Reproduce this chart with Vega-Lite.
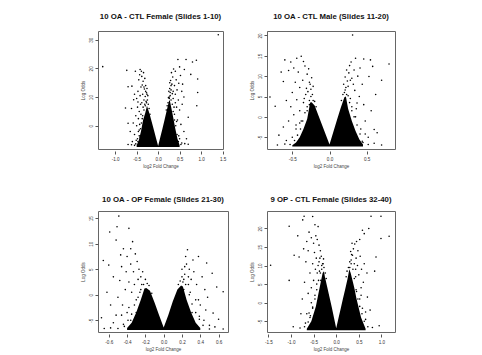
{
"$schema": "https://vega.github.io/schema/vega-lite/v6.json",
"background": "white",
"padding": {"left": 79, "top": 12, "right": 5, "bottom": 5},
"config": {
  "view": {"stroke": "#666", "strokeWidth": 1},
  "font": "Liberation Sans",
  "axis": {"grid": false, "domain": false, "ticks": true, "tickColor": "#555", "tickSize": 3, "labelFontSize": 4.6, "labelColor": "#333", "titleFontSize": 4.5, "titleFontWeight": "normal", "titleColor": "#444", "labelFont": "Liberation Sans", "titleFont": "Liberation Sans", "labelOverlap": false, "labelBound": false, "labelFlush": false},
  "axisX": {"offset": 2, "labelPadding": 2, "titlePadding": 3},
  "axisY": {"labelAngle": -90, "labelPadding": 2, "titlePadding": 3},
  "title": {"font": "Liberation Sans", "fontSize": 7.8, "fontWeight": "bold", "color": "#111", "anchor": "middle", "offset": 10}
},
"datasets": {
  "A_core": [{"x":-0.5,"y":-6.8,"y0":-7.4},{"x":-0.45,"y":-5,"y0":-7.4},{"x":-0.4,"y":-2,"y0":-7.4},{"x":-0.35,"y":2,"y0":-7.4},{"x":-0.3,"y":4.5,"y0":-7.4},{"x":-0.26,"y":7,"y0":-7.4},{"x":-0.24,"y":6,"y0":-7.4},{"x":-0.2,"y":4.2,"y0":-7.4},{"x":-0.15,"y":1.4,"y0":-7.4},{"x":-0.1,"y":-1.4,"y0":-7.4},{"x":-0.05,"y":-4.2,"y0":-7.4},{"x":0,"y":-7,"y0":-7.4},{"x":0.05,"y":-4,"y0":-7.4},{"x":0.1,"y":-1,"y0":-7.4},{"x":0.15,"y":2.1,"y0":-7.4},{"x":0.2,"y":5.3,"y0":-7.4},{"x":0.25,"y":8.5,"y0":-7.4},{"x":0.27,"y":9,"y0":-7.4},{"x":0.31,"y":6,"y0":-7.4},{"x":0.35,"y":3,"y0":-7.4},{"x":0.4,"y":-1,"y0":-7.4},{"x":0.45,"y":-4.5,"y0":-7.4},{"x":0.5,"y":-6.8,"y0":-7.4}],
  "A_pts": [{"x":-0.28,"y":8.5},{"x":-0.3,"y":10.2},{"x":-0.27,"y":11.5},{"x":-0.32,"y":12.8},{"x":-0.29,"y":14},{"x":-0.35,"y":15.5},{"x":-0.38,"y":17.2},{"x":-0.42,"y":19.6},{"x":-0.34,"y":18.5},{"x":-0.53,"y":19},{"x":-0.45,"y":16},{"x":-0.4,"y":13.5},{"x":-0.36,"y":11},{"x":-0.33,"y":9},{"x":-0.31,"y":7.5},{"x":-0.38,"y":8},{"x":-0.42,"y":10.5},{"x":-0.47,"y":12},{"x":-0.5,"y":9.5},{"x":-0.55,"y":11},{"x":-0.61,"y":13.8},{"x":-0.57,"y":9.1},{"x":-0.62,"y":6},{"x":-0.48,"y":6.5},{"x":-0.44,"y":5},{"x":-0.4,"y":4},{"x":-0.46,"y":2.5},{"x":-0.52,"y":3.5},{"x":-0.58,"y":1},{"x":-0.5,"y":0},{"x":-0.44,"y":-1.5},{"x":-0.55,"y":-3},{"x":-0.48,"y":-4.5},{"x":-0.6,"y":-5.5},{"x":-0.65,"y":-2},{"x":-0.7,"y":0.9},{"x":-0.73,"y":19.3},{"x":-0.7,"y":13.6},{"x":-0.76,"y":6.2},{"x":-1.29,"y":20.6},{"x":-0.37,"y":14.2},{"x":-0.31,"y":16.5},{"x":-0.26,"y":13},{"x":-0.24,"y":10.5},{"x":-0.39,"y":19},{"x":-0.43,"y":17.8},{"x":-0.35,"y":6.5},{"x":-0.41,"y":7.5},{"x":-0.47,"y":8.3},{"x":-0.37,"y":2.5},{"x":-0.42,"y":-4},{"x":-0.36,"y":-5.8},{"x":-0.52,"y":-6.3},{"x":-0.3,"y":-6.8},{"x":0.26,"y":10},{"x":0.28,"y":11.6},{"x":0.27,"y":13},{"x":0.3,"y":12.5},{"x":0.32,"y":14.5},{"x":0.29,"y":15.8},{"x":0.34,"y":17},{"x":0.31,"y":18.5},{"x":0.36,"y":19.8},{"x":0.46,"y":23.1},{"x":0.65,"y":23.1},{"x":0.8,"y":22.2},{"x":0.89,"y":22.8},{"x":0.61,"y":19.6},{"x":0.76,"y":17.9},{"x":0.92,"y":16.3},{"x":0.92,"y":11.6},{"x":0.9,"y":7},{"x":1.4,"y":31.7},{"x":0.38,"y":14},{"x":0.42,"y":16},{"x":0.4,"y":11},{"x":0.35,"y":9.5},{"x":0.44,"y":12.5},{"x":0.48,"y":14.8},{"x":0.52,"y":17.5},{"x":0.55,"y":12},{"x":0.47,"y":9},{"x":0.43,"y":6.5},{"x":0.5,"y":5.5},{"x":0.56,"y":7.5},{"x":0.6,"y":10},{"x":0.38,"y":4},{"x":0.45,"y":2},{"x":0.53,"y":0.5},{"x":0.6,"y":-2},{"x":0.48,"y":-3.5},{"x":0.42,"y":-5.5},{"x":0.55,"y":-6},{"x":0.66,"y":-4.5},{"x":0.33,"y":-6.5},{"x":0.7,"y":3},{"x":0.57,"y":14.5},{"x":0.5,"y":20.5},{"x":0.4,"y":19},{"x":0.25,"y":12},{"x":0.24,"y":9.8},{"x":0.37,"y":6.5},{"x":0.33,"y":11.2},{"x":-0.47,"y":-5.5},{"x":-0.44,"y":-3.5},{"x":-0.41,"y":-1},{"x":-0.39,"y":1},{"x":-0.36,"y":3.5},{"x":-0.33,"y":5.5},{"x":-0.3,"y":7},{"x":-0.27,"y":8},{"x":-0.25,"y":9},{"x":-0.23,"y":7.5},{"x":-0.21,"y":6},{"x":-0.19,"y":4},{"x":-0.43,"y":0.5},{"x":-0.46,"y":-2},{"x":-0.51,"y":-5},{"x":-0.55,"y":-6.8},{"x":-0.26,"y":11},{"x":-0.29,"y":12},{"x":-0.33,"y":13.5},{"x":0.47,"y":-5.5},{"x":0.44,"y":-3},{"x":0.41,"y":0},{"x":0.38,"y":2},{"x":0.35,"y":5},{"x":0.33,"y":7.5},{"x":0.3,"y":9},{"x":0.28,"y":10.5},{"x":0.26,"y":9.5},{"x":0.23,"y":8},{"x":0.21,"y":7},{"x":0.19,"y":5.5},{"x":0.43,"y":1.5},{"x":0.5,"y":-4.5},{"x":0.53,"y":-6.5},{"x":0.3,"y":14},{"x":0.35,"y":12},{"x":0.27,"y":15},{"x":0.4,"y":8},{"x":0.62,"y":-6.2},{"x":-0.62,"y":-6.6},{"x":-0.7,"y":-6.5},{"x":0.7,"y":-6.4}],
  "B_core": [{"x":-0.5,"y":-7,"y0":-7.3},{"x":-0.45,"y":-6.3,"y0":-7.3},{"x":-0.4,"y":-5,"y0":-7.3},{"x":-0.35,"y":-3,"y0":-7.3},{"x":-0.3,"y":-0.5,"y0":-7.3},{"x":-0.26,"y":3.5,"y0":-7.3},{"x":-0.24,"y":3.6,"y0":-7.3},{"x":-0.2,"y":2.8,"y0":-7.3},{"x":-0.15,"y":0.4,"y0":-7.3},{"x":-0.1,"y":-2,"y0":-7.3},{"x":-0.05,"y":-4.4,"y0":-7.3},{"x":0,"y":-6.8,"y0":-7.3},{"x":0.05,"y":-3.8,"y0":-7.3},{"x":0.1,"y":-0.8,"y0":-7.3},{"x":0.15,"y":2.2,"y0":-7.3},{"x":0.2,"y":4.8,"y0":-7.3},{"x":0.22,"y":5,"y0":-7.3},{"x":0.25,"y":2,"y0":-7.3},{"x":0.3,"y":-1,"y0":-7.3},{"x":0.35,"y":-3.5,"y0":-7.3},{"x":0.4,"y":-5.5,"y0":-7.3},{"x":0.45,"y":-6.8,"y0":-7.3}],
  "B_pts": [{"x":-0.23,"y":5.5},{"x":-0.25,"y":6.8},{"x":-0.22,"y":7.5},{"x":-0.27,"y":8.5},{"x":-0.24,"y":9.6},{"x":-0.3,"y":10.5},{"x":-0.28,"y":11.8},{"x":-0.33,"y":12.5},{"x":-0.35,"y":13.6},{"x":-0.44,"y":14.4},{"x":-0.38,"y":14.9},{"x":-0.55,"y":11.4},{"x":-0.62,"y":8.7},{"x":-0.8,"y":4.9},{"x":-0.73,"y":2.6},{"x":-0.48,"y":12},{"x":-0.42,"y":11},{"x":-0.36,"y":9},{"x":-0.4,"y":7.2},{"x":-0.46,"y":8.5},{"x":-0.5,"y":6},{"x":-0.32,"y":5.5},{"x":-0.35,"y":3.5},{"x":-0.44,"y":4.2},{"x":-0.52,"y":2.5},{"x":-0.58,"y":4},{"x":-0.4,"y":1.5},{"x":-0.48,"y":0.5},{"x":-0.55,"y":-1},{"x":-0.62,"y":-2.5},{"x":-0.45,"y":-3},{"x":-0.5,"y":-5},{"x":-0.58,"y":-5.8},{"x":-0.68,"y":-4.5},{"x":-0.38,"y":-1},{"x":-0.3,"y":1.5},{"x":-0.27,"y":3},{"x":-0.6,"y":14},{"x":-0.65,"y":11},{"x":-0.52,"y":13.5},{"x":-0.29,"y":6.2},{"x":-0.36,"y":-5.5},{"x":-0.42,"y":-6.5},{"x":0.2,"y":6},{"x":0.22,"y":7.2},{"x":0.19,"y":8},{"x":0.24,"y":8.8},{"x":0.21,"y":9.8},{"x":0.26,"y":10.8},{"x":0.23,"y":11.5},{"x":0.27,"y":12.6},{"x":0.31,"y":20.1},{"x":0.35,"y":14.4},{"x":0.46,"y":14.2},{"x":0.55,"y":14},{"x":0.8,"y":13},{"x":0.58,"y":12.4},{"x":0.53,"y":9.9},{"x":0.37,"y":3.4},{"x":0.64,"y":-3.9},{"x":0.6,"y":-3.1},{"x":0.3,"y":9.5},{"x":0.33,"y":11.5},{"x":0.29,"y":13.5},{"x":0.38,"y":10},{"x":0.41,"y":12},{"x":0.44,"y":8},{"x":0.34,"y":6.5},{"x":0.4,"y":5},{"x":0.46,"y":3},{"x":0.3,"y":2.5},{"x":0.35,"y":0},{"x":0.48,"y":-1},{"x":0.42,"y":-3},{"x":0.52,"y":-5},{"x":0.38,"y":-5.5},{"x":0.45,"y":-6.3},{"x":0.56,"y":1.5},{"x":0.62,"y":5.5},{"x":0.28,"y":4.5},{"x":0.25,"y":5.2},{"x":0.32,"y":-4},{"x":0.7,"y":9},{"x":-0.47,"y":-5.8},{"x":-0.43,"y":-4.5},{"x":-0.39,"y":-3},{"x":-0.36,"y":-1},{"x":-0.33,"y":1},{"x":-0.3,"y":2.5},{"x":-0.27,"y":4},{"x":-0.25,"y":5},{"x":-0.22,"y":4},{"x":-0.2,"y":3.8},{"x":-0.18,"y":2.5},{"x":-0.4,"y":-1.5},{"x":-0.45,"y":-2},{"x":-0.53,"y":-6.8},{"x":-0.6,"y":-6.7},{"x":-0.34,"y":4.5},{"x":-0.31,"y":7},{"x":-0.26,"y":8},{"x":0.44,"y":-6},{"x":0.41,"y":-4.2},{"x":0.37,"y":-2},{"x":0.33,"y":0},{"x":0.3,"y":1.5},{"x":0.27,"y":3.5},{"x":0.23,"y":5.5},{"x":0.21,"y":6.6},{"x":0.18,"y":5.5},{"x":0.16,"y":4},{"x":0.36,"y":2},{"x":0.48,"y":-4.2},{"x":0.52,"y":-6.8},{"x":0.6,"y":-6.5},{"x":0.25,"y":7.5},{"x":0.28,"y":9},{"x":0.32,"y":8},{"x":-0.7,"y":-6.9},{"x":0.7,"y":-6.9}],
  "C_core": [{"x":-0.4,"y":-6.5,"y0":-6.9},{"x":-0.35,"y":-5.5,"y0":-6.9},{"x":-0.3,"y":-3.5,"y0":-6.9},{"x":-0.25,"y":-1,"y0":-6.9},{"x":-0.21,"y":1.2,"y0":-6.9},{"x":-0.19,"y":1.3,"y0":-6.9},{"x":-0.15,"y":0.8,"y0":-6.9},{"x":-0.1,"y":-1.5,"y0":-6.9},{"x":-0.05,"y":-4,"y0":-6.9},{"x":0,"y":-6.4,"y0":-6.9},{"x":0.05,"y":-4,"y0":-6.9},{"x":0.1,"y":-1.3,"y0":-6.9},{"x":0.15,"y":1,"y0":-6.9},{"x":0.19,"y":1.8,"y0":-6.9},{"x":0.21,"y":1.6,"y0":-6.9},{"x":0.25,"y":-1,"y0":-6.9},{"x":0.3,"y":-3.5,"y0":-6.9},{"x":0.35,"y":-5.5,"y0":-6.9},{"x":0.4,"y":-6.5,"y0":-6.9}],
  "C_pts": [{"x":-0.49,"y":15.4},{"x":-0.59,"y":12.3},{"x":-0.51,"y":13.3},{"x":-0.38,"y":13},{"x":-0.34,"y":10.4},{"x":-0.52,"y":10.7},{"x":-0.66,"y":6.7},{"x":-0.6,"y":5.8},{"x":-0.25,"y":3.5},{"x":-0.27,"y":5},{"x":-0.24,"y":2},{"x":-0.29,"y":6.5},{"x":-0.31,"y":8},{"x":-0.28,"y":3},{"x":-0.33,"y":4.5},{"x":-0.36,"y":6},{"x":-0.4,"y":7.5},{"x":-0.44,"y":9},{"x":-0.46,"y":5.5},{"x":-0.38,"y":2.5},{"x":-0.42,"y":1},{"x":-0.35,"y":0.5},{"x":-0.3,"y":-1},{"x":-0.48,"y":2.8},{"x":-0.55,"y":3.5},{"x":-0.5,"y":-0.5},{"x":-0.45,"y":-2},{"x":-0.4,"y":-3.5},{"x":-0.52,"y":-4},{"x":-0.58,"y":-2},{"x":-0.62,"y":0.5},{"x":-0.36,"y":-5},{"x":-0.44,"y":-5.8},{"x":-0.55,"y":-5.5},{"x":-0.32,"y":2},{"x":-0.26,"y":0.5},{"x":-0.41,"y":4.5},{"x":-0.47,"y":7.8},{"x":-0.36,"y":9},{"x":-0.3,"y":-3.5},{"x":-0.68,"y":-4.5},{"x":0.21,"y":2.5},{"x":0.23,"y":4},{"x":0.2,"y":5},{"x":0.25,"y":6},{"x":0.26,"y":8.8},{"x":0.32,"y":6.8},{"x":0.38,"y":7.5},{"x":0.47,"y":6.2},{"x":0.53,"y":4.2},{"x":0.65,"y":0.6},{"x":0.39,"y":-4.2},{"x":0.54,"y":-3.6},{"x":0.24,"y":7.5},{"x":0.28,"y":5},{"x":0.3,"y":3},{"x":0.33,"y":4.5},{"x":0.36,"y":2},{"x":0.29,"y":0.5},{"x":0.42,"y":3.5},{"x":0.45,"y":1},{"x":0.35,"y":-1},{"x":0.4,"y":-2},{"x":0.48,"y":-0.5},{"x":0.44,"y":-5},{"x":0.33,"y":-5.5},{"x":0.5,"y":-6},{"x":0.58,"y":1.5},{"x":0.26,"y":-2.5},{"x":0.22,"y":1},{"x":0.31,"y":-3.5},{"x":0.27,"y":2},{"x":0.6,"y":-4.8},{"x":-0.43,"y":-6.2},{"x":-0.39,"y":-5},{"x":-0.35,"y":-3.8},{"x":-0.32,"y":-2},{"x":-0.28,"y":-0.5},{"x":-0.25,"y":1},{"x":-0.22,"y":2},{"x":-0.2,"y":3},{"x":-0.18,"y":2.2},{"x":-0.16,"y":1.8},{"x":-0.13,"y":0.3},{"x":-0.38,"y":-2.5},{"x":-0.46,"y":-4},{"x":-0.5,"y":-6.6},{"x":-0.58,"y":-6.5},{"x":-0.23,"y":4.5},{"x":0.43,"y":-6},{"x":0.39,"y":-4.8},{"x":0.35,"y":-3.5},{"x":0.31,"y":-1.8},{"x":0.28,"y":0},{"x":0.24,"y":2},{"x":0.22,"y":3},{"x":0.2,"y":3.5},{"x":0.18,"y":2.7},{"x":0.16,"y":2},{"x":0.38,"y":-1},{"x":0.46,"y":-3},{"x":0.5,"y":-6.7},{"x":0.56,"y":-6.3},{"x":0.23,"y":5.5},{"x":0.27,"y":3.5},{"x":0.65,"y":-6.7},{"x":-0.65,"y":-6.6}],
  "D_core": [{"x":-0.65,"y":-7,"y0":-7.4},{"x":-0.55,"y":-5,"y0":-7.4},{"x":-0.45,"y":-1,"y0":-7.4},{"x":-0.4,"y":2,"y0":-7.4},{"x":-0.35,"y":5,"y0":-7.4},{"x":-0.3,"y":8,"y0":-7.4},{"x":-0.27,"y":8.5,"y0":-7.4},{"x":-0.25,"y":7,"y0":-7.4},{"x":-0.2,"y":4.3,"y0":-7.4},{"x":-0.15,"y":1.6,"y0":-7.4},{"x":-0.1,"y":-1.1,"y0":-7.4},{"x":-0.05,"y":-4,"y0":-7.4},{"x":0,"y":-6.9,"y0":-7.4},{"x":0.05,"y":-4.2,"y0":-7.4},{"x":0.1,"y":-1.6,"y0":-7.4},{"x":0.15,"y":1.1,"y0":-7.4},{"x":0.2,"y":3.7,"y0":-7.4},{"x":0.25,"y":6.4,"y0":-7.4},{"x":0.29,"y":9,"y0":-7.4},{"x":0.32,"y":8,"y0":-7.4},{"x":0.35,"y":6.5,"y0":-7.4},{"x":0.4,"y":4,"y0":-7.4},{"x":0.45,"y":1,"y0":-7.4},{"x":0.55,"y":-4,"y0":-7.4},{"x":0.65,"y":-7,"y0":-7.4}],
  "D_pts": [{"x":-1.04,"y":20.6},{"x":-1.45,"y":10.1},{"x":-1.04,"y":6},{"x":-0.74,"y":22.3},{"x":-0.71,"y":23.3},{"x":-0.52,"y":23.2},{"x":-0.93,"y":12.8},{"x":-0.82,"y":12.3},{"x":-0.67,"y":11},{"x":-0.52,"y":-1.2},{"x":-0.6,"y":-2.8},{"x":-0.3,"y":10.5},{"x":-0.28,"y":11.8},{"x":-0.33,"y":12.5},{"x":-0.35,"y":14},{"x":-0.38,"y":15.5},{"x":-0.42,"y":17},{"x":-0.45,"y":18},{"x":-0.5,"y":16},{"x":-0.55,"y":17.5},{"x":-0.6,"y":19},{"x":-0.65,"y":16.5},{"x":-0.62,"y":14},{"x":-0.48,"y":13.5},{"x":-0.44,"y":12},{"x":-0.4,"y":10},{"x":-0.37,"y":8.5},{"x":-0.46,"y":9},{"x":-0.52,"y":10.5},{"x":-0.58,"y":8},{"x":-0.5,"y":6},{"x":-0.43,"y":5},{"x":-0.55,"y":4},{"x":-0.47,"y":2},{"x":-0.62,"y":2.5},{"x":-0.7,"y":5.5},{"x":-0.75,"y":1},{"x":-0.58,"y":-4},{"x":-0.68,"y":-5.5},{"x":-0.48,"y":-5},{"x":-0.4,"y":-6},{"x":-0.78,"y":-3},{"x":-0.36,"y":12},{"x":-0.32,"y":9},{"x":-0.4,"y":20.5},{"x":-0.47,"y":21},{"x":-0.85,"y":18},{"x":-0.72,"y":14.5},{"x":-0.34,"y":6},{"x":0.77,"y":23.3},{"x":0.99,"y":23.3},{"x":1.17,"y":17.9},{"x":0.99,"y":17.3},{"x":0.88,"y":12.3},{"x":0.58,"y":19.5},{"x":0.62,"y":18.6},{"x":0.69,"y":1.5},{"x":0.33,"y":11.5},{"x":0.36,"y":12.8},{"x":0.32,"y":13.8},{"x":0.38,"y":14.5},{"x":0.41,"y":15.8},{"x":0.45,"y":16.5},{"x":0.52,"y":17},{"x":0.48,"y":14},{"x":0.44,"y":12},{"x":0.4,"y":10.5},{"x":0.47,"y":10},{"x":0.53,"y":12.5},{"x":0.56,"y":9},{"x":0.5,"y":7.5},{"x":0.43,"y":7},{"x":0.6,"y":5.5},{"x":0.55,"y":4},{"x":0.45,"y":3},{"x":0.62,"y":10.5},{"x":0.68,"y":8},{"x":0.52,"y":1},{"x":0.58,"y":-1.5},{"x":0.48,"y":-3},{"x":0.65,"y":-4.5},{"x":0.55,"y":-5.8},{"x":0.42,"y":-6},{"x":0.75,"y":-2},{"x":0.35,"y":16},{"x":0.72,"y":20},{"x":0.85,"y":8.5},{"x":0.3,"y":9.5},{"x":0.37,"y":-5},{"x":-0.7,"y":-6.5},{"x":-0.62,"y":-5.2},{"x":-0.57,"y":-3.5},{"x":-0.52,"y":-1.5},{"x":-0.47,"y":1},{"x":-0.43,"y":3.5},{"x":-0.39,"y":6},{"x":-0.35,"y":8},{"x":-0.32,"y":10},{"x":-0.29,"y":10.5},{"x":-0.27,"y":9.5},{"x":-0.24,"y":8},{"x":-0.22,"y":6.5},{"x":-0.55,"y":0},{"x":-0.65,"y":-3},{"x":-0.8,"y":-6.8},{"x":-0.42,"y":8},{"x":-0.38,"y":11},{"x":0.7,"y":-6.5},{"x":0.62,"y":-5},{"x":0.57,"y":-3},{"x":0.52,"y":-1},{"x":0.48,"y":1},{"x":0.44,"y":3.5},{"x":0.4,"y":6.5},{"x":0.37,"y":9},{"x":0.33,"y":10.5},{"x":0.3,"y":11},{"x":0.27,"y":9.5},{"x":0.24,"y":8.5},{"x":0.22,"y":7},{"x":0.55,"y":2},{"x":0.65,"y":-2.5},{"x":0.8,"y":-6.7},{"x":0.43,"y":9},{"x":0.34,"y":13},{"x":-0.95,"y":-6.5},{"x":0.95,"y":-6.2}]
},
"columns": 2,
"bounds": "flush",
"spacing": {"row": 62, "column": 39},
"concat": [
  {"title": "10 OA - CTL Female (Slides 1-10)", "width": 125, "height": 118,
   "encoding": {
     "x": {"field": "x", "type": "quantitative", "scale": {"domain": [-1.4, 1.51], "nice": false, "zero": false}, "axis": {"values": [-1, -0.5, 0, 0.5, 1, 1.5], "labelOverlap": false, "format": ".1f", "labelExpr": "replace(datum.label, '\u2212', '-')", "title": "log2 Fold Change"}},
     "y": {"field": "y", "type": "quantitative", "scale": {"domain": [-8.07, 33], "nice": false, "zero": false}, "axis": {"values": [0, 10, 20, 30], "labelOverlap": false, "title": "Log Odds"}}},
   "layer": [
    {"data": {"name": "A_core"}, "mark": {"type": "area", "color": "black"}, "encoding": {"y2": {"field": "y0"}}},
    {"data": {"name": "A_pts"}, "mark": {"type": "circle", "size": 2.5, "color": "black", "opacity": 1}}
   ]},
  {"title": "10 OA - CTL Male (Slides 11-20)", "width": 128, "height": 118,
   "encoding": {
     "x": {"field": "x", "type": "quantitative", "scale": {"domain": [-0.84, 0.88], "nice": false, "zero": false}, "axis": {"values": [-0.5, 0, 0.5], "labelOverlap": false, "format": ".1f", "labelExpr": "replace(datum.label, '\u2212', '-')", "title": "log2 Fold Change"}},
     "y": {"field": "y", "type": "quantitative", "scale": {"domain": [-7.9, 21.1], "nice": false, "zero": false}, "axis": {"values": [-5, 0, 5, 10, 15, 20], "labelOverlap": false, "labelExpr": "replace(datum.label, '\u2212', '-')", "title": "Log Odds"}}},
   "layer": [
    {"data": {"name": "B_core"}, "mark": {"type": "area", "color": "black"}, "encoding": {"y2": {"field": "y0"}}},
    {"data": {"name": "B_pts"}, "mark": {"type": "circle", "size": 2.5, "color": "black", "opacity": 1}}
   ]},
  {"title": {"text": "10 OA - OP Female (Slides 21-30)", "offset": 7}, "width": 130, "height": 121,
   "encoding": {
     "x": {"field": "x", "type": "quantitative", "scale": {"domain": [-0.718, 0.703], "nice": false, "zero": false}, "axis": {"values": [-0.6, -0.4, -0.2, 0, 0.2, 0.4, 0.6], "labelOverlap": false, "format": ".1f", "labelExpr": "replace(datum.label, '\u2212', '-')", "title": "log2 Fold Change"}},
     "y": {"field": "y", "type": "quantitative", "scale": {"domain": [-7.3, 16.4], "nice": false, "zero": false}, "axis": {"values": [-5, 0, 5, 10, 15], "labelOverlap": false, "labelExpr": "replace(datum.label, '\u2212', '-')", "title": "Log Odds"}}},
   "layer": [
    {"data": {"name": "C_core"}, "mark": {"type": "area", "color": "black"}, "encoding": {"y2": {"field": "y0"}}},
    {"data": {"name": "C_pts"}, "mark": {"type": "circle", "size": 2.5, "color": "black", "opacity": 1}}
   ]},
  {"title": {"text": "9 OP - CTL Female (Slides 32-40)", "offset": 7}, "width": 128, "height": 121,
   "encoding": {
     "x": {"field": "x", "type": "quantitative", "scale": {"domain": [-1.53, 1.3], "nice": false, "zero": false}, "axis": {"values": [-1.5, -1, -0.5, 0, 0.5, 1], "labelOverlap": false, "format": ".1f", "labelExpr": "replace(datum.label, '\u2212', '-')", "title": "log2 Fold Change"}},
     "y": {"field": "y", "type": "quantitative", "scale": {"domain": [-7.9, 24.7], "nice": false, "zero": false}, "axis": {"values": [-5, 0, 5, 10, 15, 20], "labelOverlap": false, "labelExpr": "replace(datum.label, '\u2212', '-')", "title": "Log Odds"}}},
   "layer": [
    {"data": {"name": "D_core"}, "mark": {"type": "area", "color": "black"}, "encoding": {"y2": {"field": "y0"}}},
    {"data": {"name": "D_pts"}, "mark": {"type": "circle", "size": 2.5, "color": "black", "opacity": 1}}
   ]}
]
}
